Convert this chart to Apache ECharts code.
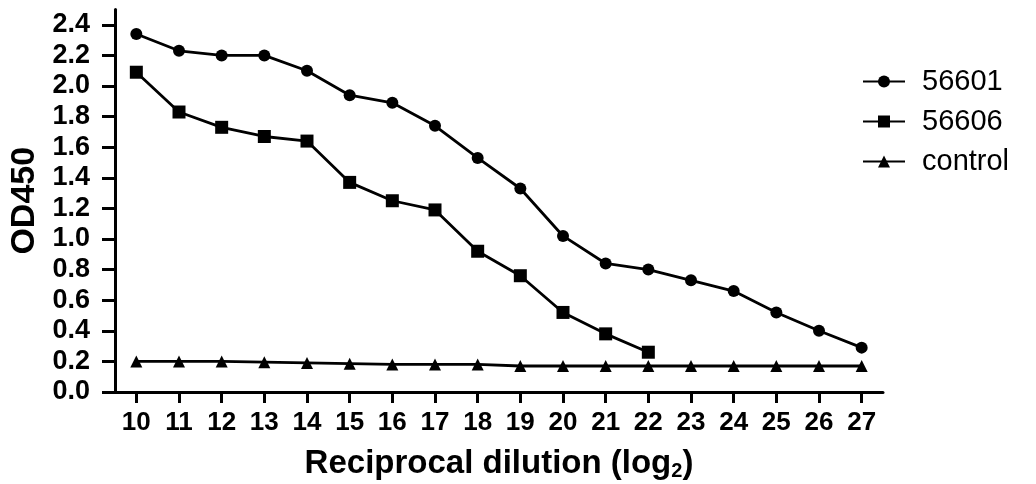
<!DOCTYPE html>
<html><head><meta charset="utf-8">
<script src="https://cdn.jsdelivr.net/npm/echarts@6/dist/echarts.min.js"></script>
<style>html,body{margin:0;padding:0;background:#fff}#c{width:1036px;height:484px}</style>
</head><body><div id="c"></div>
<script>
var categories = ['10','11','12','13','14','15','16','17','18','19','20','21','22','23','24','25','26','27'];
var s56601 = [2.34,2.23,2.20,2.20,2.10,1.94,1.89,1.74,1.53,1.33,1.02,0.84,0.80,0.73,0.66,0.52,0.40,0.29];
var s56606 = [2.09,1.83,1.73,1.67,1.64,1.37,1.25,1.19,0.92,0.76,0.52,0.38,0.26];
var control = [0.20,0.20,0.20,0.195,0.19,0.185,0.18,0.18,0.18,0.17,0.17,0.17,0.17,0.17,0.17,0.17,0.17,0.17];
var yTicks = [0,0.2,0.4,0.6,0.8,1.0,1.2,1.4,1.6,1.8,2.0,2.2,2.4];

var FONT = "'Liberation Sans', Arial, sans-serif";
function mk(name, data, symbol, size) {
  return {name:name, type:'line', data:data, symbol:symbol, symbolSize:size,
    lineStyle:{color:'#000', width:2.8}, itemStyle:{color:'#000'}, animation:false};
}
var chart = echarts.init(document.getElementById('c'));
chart.setOption({
  animation:false,
  grid:{left:115, right:153, top:9.5, bottom:92, containLabel:false, outerBoundsMode:'none'},
  xAxis:{type:'category', data:categories, boundaryGap:true,
    name:'Reciprocal dilution (log{sub|2})', nameLocation:'middle', nameGap:54,
    nameTextStyle:{fontFamily:FONT, fontWeight:'bold', fontSize:33, color:'#000',
      rich:{sub:{fontFamily:FONT, fontWeight:'bold', fontSize:20, color:'#000', padding:[15,0,0,0]}}},
    axisLine:{show:true, lineStyle:{color:'#000', width:3}},
    axisTick:{show:true, alignWithLabel:true, length:11, lineStyle:{color:'#000', width:3}},
    axisLabel:{show:true, fontFamily:FONT, fontWeight:'bold', fontSize:26, color:'#000', margin:18, interval:0},
    splitLine:{show:false}},
  yAxis:{type:'value', min:0, max:2.5,
    name:'OD450', nameLocation:'middle', nameGap:70, nameRotate:90,
    nameTextStyle:{fontFamily:FONT, fontWeight:'bold', fontSize:34, color:'#000'},
    axisLine:{show:true, lineStyle:{color:'#000', width:3}},
    axisTick:{show:true, length:13, customValues:yTicks, lineStyle:{color:'#000', width:3}},
    axisLabel:{show:true, fontFamily:FONT, fontWeight:'bold', fontSize:27, color:'#000', margin:25,
      customValues:yTicks, formatter:function(v){return v.toFixed(1);}},
    splitLine:{show:false}},
  legend:{orient:'vertical', left:857, top:62, itemWidth:42, itemHeight:15, itemGap:11,
    textStyle:{fontFamily:FONT, fontSize:29, color:'#000', padding:[0,0,0,12]},
    data:['56601','56606','control']},
  series:[mk('56601', s56601, 'circle', 12), mk('56606', s56606, 'rect', 13), mk('control', control, 'triangle', 12)]
});
</script></body></html>
